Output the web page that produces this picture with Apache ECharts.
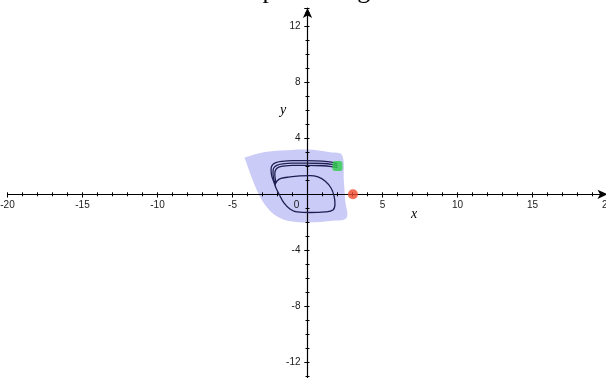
<!DOCTYPE html>
<html>
<head>
<meta charset="utf-8">
<script src="https://cdn.jsdelivr.net/npm/echarts@6/dist/echarts.min.js"></script>
<style>
  html, body { margin: 0; padding: 0; background: #fff; }
  #chart { width: 606px; height: 378px; }
</style>
</head>
<body>
<div id="chart"></div>
<script>
// Axis extents and tick steps
const xRange = [-20, 20];
const yRange = [-16, 13.3];
const xMajorStep = 5;
const yMajorStep = 4;
const minorStep = 1;

// Shaded region of initial conditions (boundary, counter-clockwise)
const regionBoundary = [
  [-4.2, 2.62], [-3.0, 2.98], [-1.8, 3.12], [0, 3.2], [1.5, 3.0], [2.3, 2.8],
  [2.42, 1.0], [2.52, -0.5], [2.6, -1.7],
  [1.5, -1.9], [0.2, -2.0], [-1.0, -1.95], [-2.0, -1.6],
  [-2.8, -0.8], [-3.5, 0.6], [-4.2, 2.62]
];

// Closed orbit around the origin
const limitCycle = [
  [-2.17, 0.66], [-2.03, 0.95], [-1.77, 1.13], [-1.17, 1.24], [-0.5, 1.31],
  [0.17, 1.34], [0.7, 1.24], [1.17, 0.95], [1.57, 0.45], [1.77, -0.12],
  [1.83, -0.69], [1.7, -1.12], [1.17, -1.26], [0.17, -1.3], [-0.7, -1.26],
  [-1.17, -1.05], [-1.57, -0.62], [-1.9, 0.02], [-2.1, 0.45], [-2.17, 0.66]
];

// Trajectories leaving the start point and joining the orbit
const trajectoryA = [
  [2.0, 2.18], [1.6, 2.3], [1.0, 2.37], [0, 2.4], [-1.0, 2.4], [-1.7, 2.35],
  [-2.15, 2.24], [-2.37, 2.05], [-2.43, 1.75], [-2.38, 1.3], [-2.25, 0.9], [-2.15, 0.62]
];
const trajectoryB = [
  [2.0, 2.03], [1.6, 2.14], [1.0, 2.2], [0, 2.23], [-1.0, 2.23], [-1.65, 2.18],
  [-2.05, 2.07], [-2.25, 1.88], [-2.3, 1.6], [-2.27, 1.2], [-2.17, 0.75]
];
const trajectoryC = [
  [2.0, 1.9], [1.6, 1.98], [1.0, 2.04], [0, 2.07], [-1.0, 2.07], [-1.6, 2.02],
  [-1.95, 1.92], [-2.13, 1.73], [-2.18, 1.45], [-2.15, 1.1], [-2.1, 0.8]
];

const startPoint = [2.0, 2.02];
const equilibriumPoint = [3.03, 0];

const curveColor = '#1e1e52';
const labelFont = { fontSize: 10, color: '#1a1a1a', fontFamily: 'Liberation Sans, Arial, sans-serif' };

// Plot area geometry: the origin sits at (originX, originY)
const plotLeft = 7.5, plotWidth = 600, plotTop = 8.1, plotHeight = 410.2;
const originX = plotLeft + plotWidth / 2;
const originY = plotTop + plotHeight * (yRange[1] / (yRange[1] - yRange[0]));

// One tick layer lying on the zero line: ticks on one side, optionally with the arrowed line
function tickLayer(range, step, inside, tickLen, withLine) {
  return {
    type: 'value', gridIndex: 0, min: range[0], max: range[1], interval: step, z: 3,
    axisLine: {
      show: withLine, onZero: true, onZeroAxisIndex: 0,
      lineStyle: { color: '#000', width: 1.2 },
      symbol: ['none', 'arrow'], symbolSize: [7, 10]
    },
    axisTick: { show: true, inside: inside, length: tickLen, lineStyle: { color: '#000', width: 1 } },
    axisLabel: { show: false },
    splitLine: { show: false }
  };
}

const hiddenAxis = (gridIndex, range) => ({ type: 'value', gridIndex, min: range[0], max: range[1], show: false });

const chart = echarts.init(document.getElementById('chart'), null, { renderer: 'canvas' });

chart.setOption({
  animation: false,
  backgroundColor: '#fff',
  title: {
    text: 'Phase plane diagram',
    left: 'center', top: -27,
    textStyle: { fontFamily: 'Liberation Serif, Times New Roman, serif', fontSize: 26, fontWeight: 'normal', color: '#000' }
  },
  grid: [
    // main plot
    { left: plotLeft, width: plotWidth, top: plotTop, height: plotHeight, outerBoundsMode: 'none' },
    // lower edge on the x zero line: carries the x tick labels
    { left: plotLeft, width: plotWidth, top: plotTop, height: originY - plotTop, outerBoundsMode: 'none' },
    // left edge on the y zero line: carries the y tick labels
    { left: originX, width: plotWidth / 2, top: plotTop, height: plotHeight, outerBoundsMode: 'none' }
  ],
  xAxis: [
    tickLayer(xRange, xMajorStep, false, 3, true),
    tickLayer(xRange, xMajorStep, true, 3, false),
    tickLayer(xRange, minorStep, false, 2, false),
    tickLayer(xRange, minorStep, true, 2, false),
    {
      type: 'value', gridIndex: 1, position: 'bottom', min: xRange[0], max: xRange[1], interval: xMajorStep, z: 3,
      axisLine: { show: false, onZero: false }, axisTick: { show: false }, splitLine: { show: false },
      axisLabel: Object.assign({
        show: true, margin: 6, showMinLabel: true, showMaxLabel: true,
        formatter: v => v === 0 ? '{o|0}' : String(v),
        rich: { o: Object.assign({ padding: [0, 22, 0, 0] }, labelFont) }
      }, labelFont)
    },
    hiddenAxis(2, [0, 20])
  ],
  yAxis: [
    tickLayer(yRange, yMajorStep, false, 3, true),
    tickLayer(yRange, yMajorStep, true, 3, false),
    tickLayer(yRange, minorStep, false, 2, false),
    tickLayer(yRange, minorStep, true, 2, false),
    hiddenAxis(1, [0, yRange[1]]),
    {
      type: 'value', gridIndex: 2, position: 'left', min: yRange[0], max: yRange[1], interval: yMajorStep, z: 3,
      axisLine: { show: false, onZero: false }, axisTick: { show: false }, splitLine: { show: false },
      axisLabel: Object.assign({
        show: true, margin: 7, showMaxLabel: false,
        formatter: v => v === 0 ? '' : String(v)
      }, labelFont)
    }
  ],
  graphic: [
    { type: 'text', left: 411, top: 207, style: { text: 'x', font: 'italic 14px "Liberation Serif", serif', fill: '#000' } },
    { type: 'text', left: 280, top: 103, style: { text: 'y', font: 'italic 14px "Liberation Serif", serif', fill: '#000' } }
  ],
  series: [
    {
      type: 'custom', name: 'region', xAxisIndex: 0, yAxisIndex: 0, z: 1,
      data: [0],
      renderItem: function (params, api) {
        const pts = regionBoundary.map(p => api.coord(p));
        return { type: 'polygon', shape: { points: pts, smooth: 0.35 }, style: { fill: '#cbcbf7', stroke: 'none' } };
      }
    },
    ...[limitCycle, trajectoryA, trajectoryB, trajectoryC].map(d => ({
      type: 'line', data: d, xAxisIndex: 0, yAxisIndex: 0, z: 4,
      showSymbol: false, smooth: 0.4,
      lineStyle: { color: curveColor, width: 1.3 }
    })),
    {
      type: 'scatter', data: [startPoint], xAxisIndex: 0, yAxisIndex: 0, z: 5,
      symbol: 'roundRect', symbolSize: 10, itemStyle: { color: '#2fcc4a' }
    },
    {
      type: 'scatter', data: [equilibriumPoint], xAxisIndex: 0, yAxisIndex: 0, z: 5,
      symbol: 'circle', symbolSize: 10, itemStyle: { color: '#f04a2c' }
    }
  ]
});
</script>
</body>
</html>
